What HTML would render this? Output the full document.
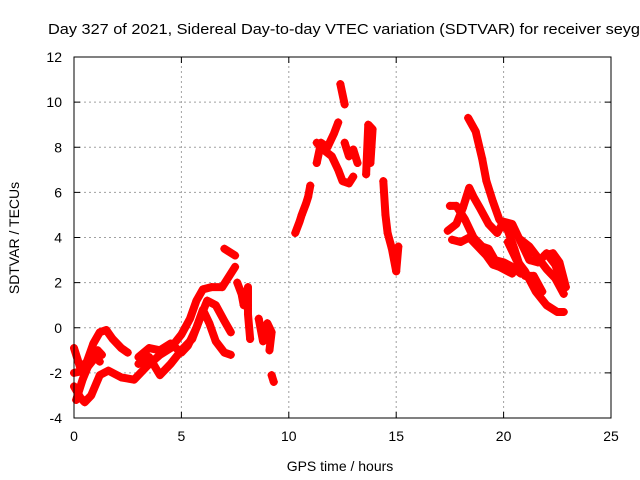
<!DOCTYPE html>
<html><head><meta charset="utf-8"><style>
body{margin:0;background:#fff}
svg{display:block;font-family:"Liberation Sans",sans-serif}
</style></head><body>
<svg id="chart" width="640" height="480">
<text x="48" y="34" font-size="15" textLength="592" lengthAdjust="spacingAndGlyphs">Day 327 of 2021, Sidereal Day-to-day VTEC variation (SDTVAR) for receiver seyg</text>
<text x="340" y="471" font-size="14" text-anchor="middle">GPS time / hours</text>
<text transform="translate(19,238) rotate(-90)" font-size="14" text-anchor="middle">SDTVAR / TECUs</text>
<g id="grid"></g><g id="ticks"></g><g id="marks"></g>
<rect x="74" y="57" width="537" height="361" fill="none" stroke="#000" stroke-width="1"/>
</svg>
<script>
const xTicks=[0,5,10,15,20,25];
const yTicks=[-4,-2,0,2,4,6,8,10,12];
const track1=[[0,-0.9],[0.3,-1.8],[0.6,-1.5],[0.9,-0.7],[1.2,-0.2],[1.5,-0.1],[1.8,-0.5],[2.2,-0.9],[2.5,-1.1]];
const track2=[[0,-2.6],[0.3,-3.1],[0.5,-3.3],[0.8,-3.0],[1.2,-2.1],[1.6,-1.9],[2.2,-2.2],[2.8,-2.3],[3.4,-1.7],[4,-1.2],[4.5,-0.9],[5,-0.3],[5.4,0.4],[5.7,1.2],[6,1.7],[6.4,1.8],[6.9,1.8],[7.5,2.7]];
const track3=[[0.1,-3.2],[0.4,-2.3],[0.7,-1.6],[1.1,-1.0],[1.3,-1.2]];
const track4=[[0,-2.0],[0.5,-1.9],[1.0,-1.3],[1.2,-1.5]];
const track5=[[3,-1.3],[3.5,-0.9],[4,-1.0],[4.5,-0.7],[5,-1.1],[5.3,-0.8],[5.7,0],[6,0.8],[6.3,0.2],[6.6,-0.6],[7,-1.1],[7.3,-1.2]];
const track6=[[3,-1.6],[3.5,-1.3],[4,-2.1],[4.5,-1.6],[5,-1.0],[5.5,-0.5],[5.9,0.5],[6.2,1.2],[6.6,1.0],[7,0.3],[7.3,-0.2]];
const track7=[[7.0,3.5],[7.5,3.2]];
const track8=[[7.6,2.0],[7.8,1.5],[7.9,1.0],[8.1,1.8],[8.1,0.6],[8.2,-0.5]];
const track9=[[8.6,0.4],[8.8,-0.6],[9.0,0.2],[9.2,-0.2],[9.1,-1.0]];
const track10=[[9.2,-2.1],[9.3,-2.4]];
const track11=[[10.3,4.2],[10.5,4.7],[10.6,5.0],[10.8,5.5],[10.9,5.8],[11,6.3]];
const track12=[[11.3,7.3],[11.5,8.2],[11.8,8.0],[12.1,8.6],[12.3,9.1]];
const track13=[[11.3,8.2],[11.6,7.9],[12,7.6],[12.3,7.0],[12.5,6.5],[12.8,6.4],[13,6.7]];
const track14=[[12.4,10.8],[12.6,9.9]];
const track15=[[12.6,8.2],[12.8,7.6],[13,7.9],[13.2,7.3]];
const track16=[[13.6,6.8],[13.7,9.0],[13.9,8.8],[13.8,7.3]];
const track17=[[14.4,6.5],[14.5,5],[14.6,4.2],[14.8,3.5],[15,2.5],[15.1,3.6]];
const track18=[[18.35,9.3],[18.7,8.7],[19,7.5],[19.2,6.5],[19.5,5.6],[19.8,4.8],[20.2,4.3],[20.5,3.5],[20.8,2.6],[21,2.3],[21.4,2.3],[21.8,1.6]];
const track19=[[17.4,4.3],[17.8,4.6],[18.1,5.3],[18.4,6.2],[18.6,5.8],[18.9,5.3],[19.3,4.6],[19.7,4.2],[20,4.7],[20.4,4.6],[20.8,3.8],[21.2,3.0],[21.6,2.9],[22,3.3],[22.4,2.8],[22.8,1.8]];
const track20=[[17.5,5.4],[17.8,5.4],[18.2,4.8],[18.6,4.0],[19,3.6],[19.3,3.5],[19.6,3.0],[20,2.9],[20.4,2.7],[20.8,2.4]];
const track21=[[17.6,3.9],[18.0,3.8],[18.4,4.0],[18.8,3.6],[19.2,3.2],[19.5,2.8],[19.8,2.7],[20.4,2.4]];
const track22=[[20.2,3.8],[20.6,3.0],[21,2.5],[21.5,1.6],[22,1.0],[22.5,0.7],[22.8,0.7]];
const track23=[[20.8,3.9],[21.2,3.6],[21.6,3.1],[22,2.6],[22.4,2.2],[22.8,1.5]];
const track24=[[21.9,3.2],[22.3,3.3],[22.6,2.9],[22.9,1.8]];
const tracks=[track1,track2,track3,track4,track5,track6,track7,track8,track9,track10,track11,track12,track13,track14,track15,track16,track17,track18,track19,track20,track21,track22,track23,track24];

const NS='http://www.w3.org/2000/svg';
const X0=74,X1=611,Y0=418,Y1=57;
function xs(v){return X0+(v-0)/25*(X1-X0);}
function ys(v){return Y0-(v+4)/16*(Y0-Y1);}
const grid=document.getElementById('grid'),ticks=document.getElementById('ticks'),marks=document.getElementById('marks');
function mk(tag,attrs,parent){const e=document.createElementNS(NS,tag);for(const k in attrs)e.setAttribute(k,attrs[k]);parent.appendChild(e);return e;}
xTicks.forEach(t=>{
  const x=xs(t);
  if(t>0&&t<25){const g=mk('line',{x1:x,x2:x,y1:Y0,y2:Y1,stroke:'#a0a0a0','stroke-dasharray':'2,3'},grid);
  
  }
  mk('line',{x1:x,x2:x,y1:Y0,y2:Y0-6,stroke:'#000'},ticks);
  mk('line',{x1:x,x2:x,y1:Y1,y2:Y1+6,stroke:'#000'},ticks);
  const l=mk('text',{x:x,y:Y0+23,'font-size':14,'text-anchor':'middle'},ticks);
  l.textContent=t;
  
  
});
yTicks.forEach(t=>{
  const y=ys(t);
  if(t>-4&&t<12){const g=mk('line',{x1:X0,x2:X1,y1:y,y2:y,stroke:'#a0a0a0','stroke-dasharray':'2,3'},grid);
  
  }
  mk('line',{x1:X0,x2:X0+6,y1:y,y2:y,stroke:'#000'},ticks);
  mk('line',{x1:X1,x2:X1-6,y1:y,y2:y,stroke:'#000'},ticks);
  const l=mk('text',{x:X0-12,y:y+5,'font-size':14,'text-anchor':'end'},ticks);
  l.textContent=t;
  
  
});
tracks.forEach((tr,i)=>{
  const p=mk('polyline',{points:tr.map(d=>xs(d[0])+','+ys(d[1])).join(' '),fill:'none',stroke:'#ff0000','stroke-width':8,'stroke-linejoin':'round','stroke-linecap':'round'},marks);
  
  
  tr.forEach(d=>{
    const x=xs(d[0]),y=ys(d[1]);
    const m=mk('path',{d:`M${x-4},${y}H${x+4}M${x},${y-4}V${y+4}`,stroke:'#ff0000','stroke-width':1.5},marks);
    
    
  });
});
</script>
</body></html>
